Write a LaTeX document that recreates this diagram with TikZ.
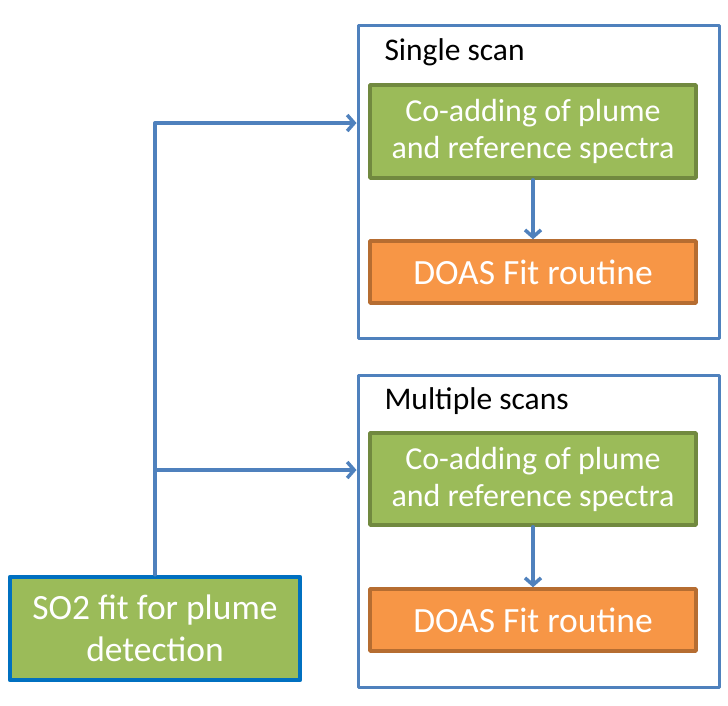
\documentclass[tikz,border=0pt]{standalone}
\usepackage{fontspec}
\setmainfont{Carlito}
\usetikzlibrary{arrows.meta}

\definecolor{lineblue}{HTML}{4F81BD}
\definecolor{darkblue}{HTML}{0070C0}
\definecolor{boxgreen}{HTML}{9BBB59}
\definecolor{edgegreen}{HTML}{71893F}
\definecolor{boxorange}{HTML}{F79646}
\definecolor{edgeorange}{HTML}{B66D31}

\begin{document}
\begin{tikzpicture}[x=1pt, y=-1pt, line cap=round, line join=round,
  frame/.style={draw=lineblue, line width=3pt, minimum width=361pt},
  greenbox/.style={draw=edgegreen, fill=boxgreen, line width=3.5pt, text=white,
    minimum width=326pt, minimum height=93pt, align=center,
    font=\fontsize{32}{37}\selectfont},
  orangebox/.style={draw=edgeorange, fill=boxorange, line width=3.5pt, text=white,
    minimum width=326pt, minimum height=62pt, font=\fontsize{35.5}{40}\selectfont},
  caption/.style={anchor=west, font=\fontsize{31.5}{36}\selectfont},
  flow/.style={draw=lineblue, line width=3.5pt, -{Straight Barb[length=7pt,width=16pt,line width=3.5pt]}}]

% Fix the page size
\useasboundingbox (0,0) rectangle (728,705);

% Outer frames
\node[frame, minimum height=313pt] (single) at (538.5,181.5) {};
\node[frame, minimum height=312pt] (multi) at (538.5,531) {};

% Frame titles
\node[caption] (singletitle) at (381,52) {Single scan};
\node[caption] (multititle) at (381,401) {Multiple scans};

% Boxes inside the frames
\node[greenbox] (coadd1) at (533,131.5) {Co-adding of plume\\and reference spectra};
\node[orangebox] (doas1) at (533,272) {DOAS Fit routine};
\node[greenbox, minimum height=92pt] (coadd2) at (533,479) {Co-adding of plume\\and reference spectra};
\node[orangebox] (doas2) at (533,620) {DOAS Fit routine};

% Start box
\node[draw=darkblue, fill=boxgreen, line width=4.5pt, text=white, align=center,
  minimum width=290pt, minimum height=103pt, font=\fontsize{35.5}{42}\selectfont]
  (so2) at (155,628.5) {SO2 fit for plume\\detection};

% Trunk line and branches
\coordinate (top) at (155,123);
\coordinate (mid) at (155,470);
\draw[draw=lineblue, line width=3.5pt] (so2.north) -- (top);
\draw[flow] (top) -- (single.west |- top);
\draw[flow] (mid) -- (multi.west |- mid);

% Arrows inside the frames
\draw[flow] (coadd1) -- (doas1);
\draw[flow] (coadd2) -- (doas2);

\end{tikzpicture}
\end{document}
